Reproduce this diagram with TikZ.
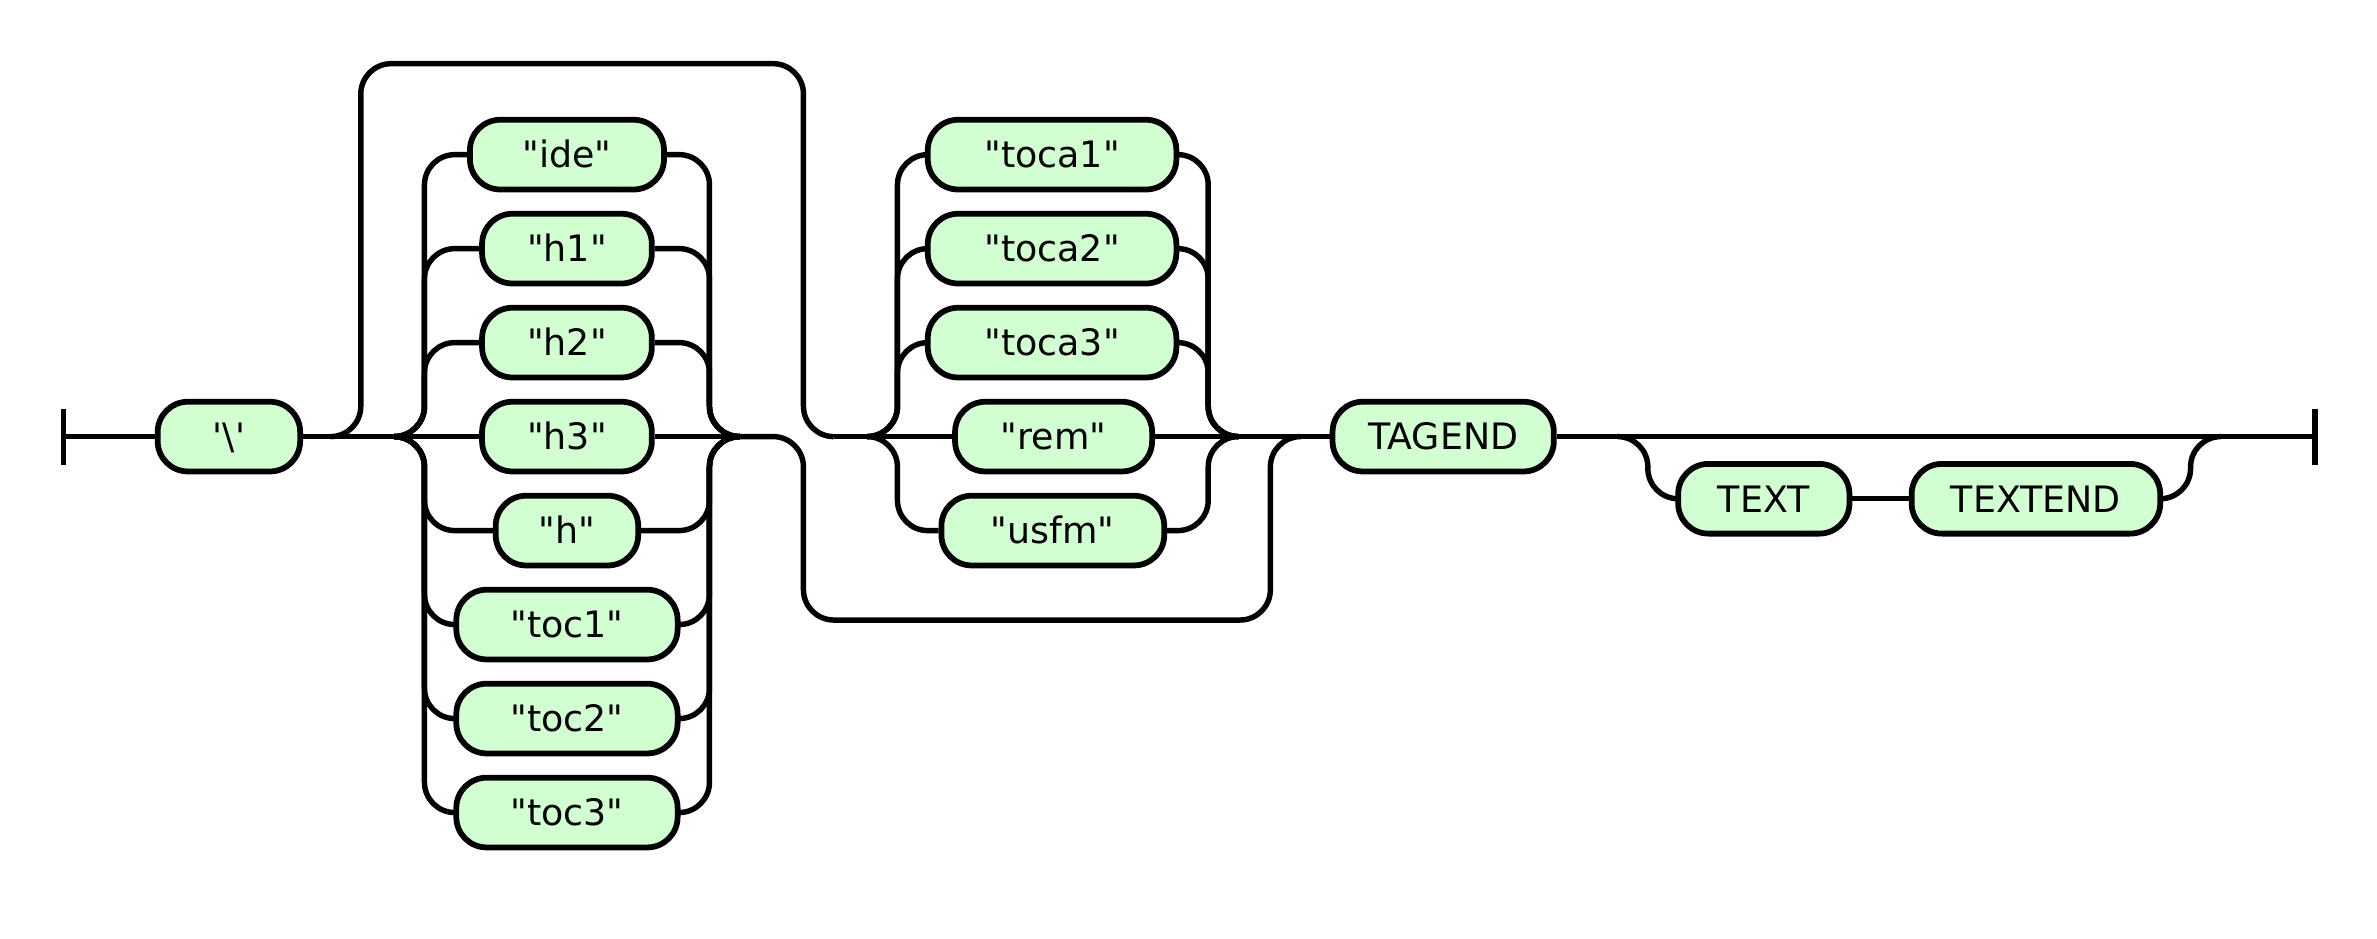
\documentclass[tikz,border=0pt]{standalone}
\usepackage{fontspec}
\newfontfamily\rrfont{DejaVu Sans}[Ligatures=TeXOff]
\usetikzlibrary{calc}
\definecolor{termfill}{RGB}{210,255,210}
\begin{document}
\begin{tikzpicture}[x=1pt,y=-1pt,
  term/.style={draw=black, line width=3.8pt, fill=termfill, rounded corners=20pt,
    minimum height=46pt, inner sep=0pt, font=\rrfont\fontsize{24}{28}\selectfont,
    text height=17.5pt, text depth=0pt},
  rail/.style={line width=3.6pt, rounded corners=20pt},
  barline/.style={line width=3.6pt}]
\useasboundingbox (0,0) rectangle (1568,619);
% coordinates
\coordinate (start) at (42,288);
\coordinate (end) at (1527,288);
\coordinate (skipa) at (218,288);
\coordinate (c1in) at (260,288);
\coordinate (c1out) at (488,288);
\coordinate (c2entry) at (550,288);
\coordinate (c2in) at (572,288);
\coordinate (c2out) at (817,288);
\coordinate (join) at (858,288);
\coordinate (optin) at (1067,288);
\coordinate (optout) at (1465,288);
% nodes
\node[term, minimum width=94pt] (bs) at (151,288) {'\textbackslash'};
\node[term, minimum width=128pt] (ide) at (374,102) {"ide"};
\node[term, minimum width=112pt] (h1) at (374,164) {"h1"};
\node[term, minimum width=112pt] (h2) at (374,226) {"h2"};
\node[term, minimum width=112pt] (h3) at (374,288) {"h3"};
\node[term, minimum width=94pt] (h) at (374,350) {"h"};
\node[term, minimum width=146pt] (toc1) at (374,412) {"toc1"};
\node[term, minimum width=146pt] (toc2) at (374,474) {"toc2"};
\node[term, minimum width=146pt] (toc3) at (374,536) {"toc3"};
\node[term, minimum width=164pt] (tocaa) at (694,102) {"toca1"};
\node[term, minimum width=164pt] (tocab) at (694,164) {"toca2"};
\node[term, minimum width=164pt] (tocac) at (694,226) {"toca3"};
\node[term, minimum width=130pt] (rem) at (695,288) {"rem"};
\node[term, minimum width=147pt] (usfm) at (694.5,350) {"usfm"};
\node[term, minimum width=146pt] (tagend) at (952,288) {TAGEND};
\node[term, minimum width=113pt] (text) at (1163.5,329) {TEXT};
\node[term, minimum width=164pt] (textend) at (1343,329) {TEXTEND};
% bars
\draw[barline] ($(start)+(0,-18)$) -- ($(start)+(0,19)$);
\draw[barline] ($(end)+(0,-18)$) -- ($(end)+(0,19)$);
% main line
\draw[rail] (start) -- (bs.west);
\draw[rail] (bs.east) -- (c1in);
% choice 1
\draw[rail] (c1in) -- (h3.west);
\draw[rail] (h3.east) -- (c1out);
\foreach \n/\y in {ide/102,h1/164,h2/226,h/350,toc1/412,toc2/474,toc3/536} {
  \draw[rail] (c1in) -| (280,\y) -- (\n.west);
  \draw[rail] (\n.east) -| (468,288) -- (c1out);
}
% top bypass
\draw[rail] (skipa) -| (238,42) -| (530,288) -- (c2entry);
% choice 2
\draw[rail] (c2entry) -- (rem.west);
\draw[rail] (rem.east) -- (tagend.west);
\foreach \n/\y in {tocaa/102,tocab/164,tocac/226,usfm/350} {
  \draw[rail] (c2in) -| (592,\y) -- (\n.west);
  \draw[rail] (\n.east) -| (797,288) -- (c2out);
}
% bottom bypass
\draw[rail] (c1out) -| (530,409) -| (838,288) -- (join);
% tail
\draw[rail] (tagend.east) -- (end);
\draw[rail] (optin) -| (1087,329) -- (text.west);
\draw[rail] (text.east) -- (textend.west);
\draw[rail] (textend.east) -| (1445,288) -- (optout);
\end{tikzpicture}
\end{document}
